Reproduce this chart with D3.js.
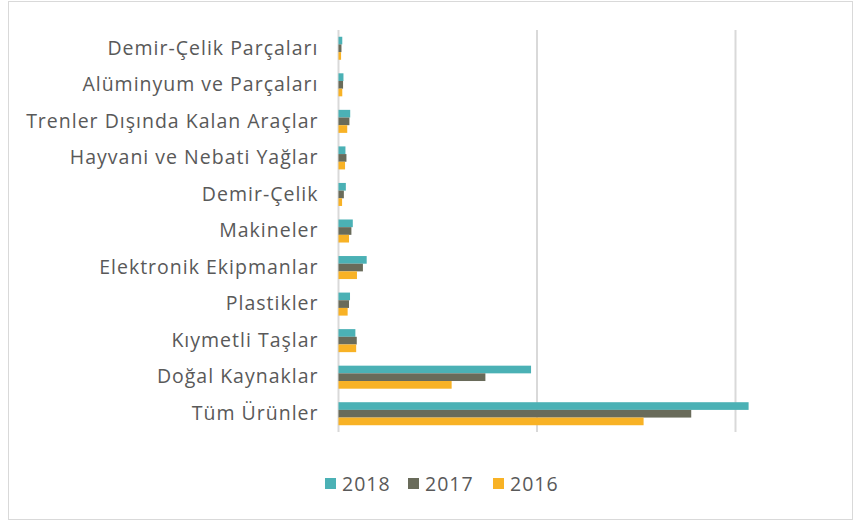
<!DOCTYPE html>
<html><head><meta charset="utf-8">
<script src="https://cdn.jsdelivr.net/npm/d3@7"></script>
<style>body{margin:0;background:#fff}svg{display:block}</style>
</head><body>
<svg id="c" width="854" height="521"></svg>
<script>
const categories = ["Demir-Çelik Parçaları","Alüminyum ve Parçaları","Trenler Dışında Kalan Araçlar","Hayvani ve Nebati Yağlar","Demir-Çelik","Makineler","Elektronik Ekipmanlar","Plastikler","Kıymetli Taşlar","Doğal Kaynaklar","Tüm Ürünler"];
const seriesNames = ["2018","2017","2016"];
const v2018 = [1.9,2.5,5.9,3.5,3.7,7.2,14.2,5.8,8.5,97,206.6];
const v2017 = [1.5,2.3,5.5,4.0,2.7,6.5,12.3,5.3,9.2,74,177.7];
const v2016 = [1.3,1.9,4.4,3.3,1.8,5.3,9.3,4.6,8.9,57,153.7];
const xTicks = [0,100,200];
const colors = ["#4bb1b5","#696b5a","#f8b225"];

const svg = d3.select("#c");
svg.append("rect").attr("x",8.5).attr("y",1.5).attr("width",844).attr("height",518)
  .attr("fill","#fff").attr("stroke","#d9d9d9").attr("stroke-width",1);

const x = d3.scaleLinear().domain([0,200]).range([338.5,735.5]);
const y = d3.scaleBand().domain(categories).range([30,432]).paddingInner(0.37).paddingOuter(0.185);
const ys = d3.scaleBand().domain(seriesNames).range([0,y.bandwidth()]);

svg.append("g").selectAll("line").data(xTicks).join("line")
  .attr("x1",d=>x(d)).attr("x2",d=>x(d)).attr("y1",30).attr("y2",432)
  .attr("stroke","#d9d9d9").attr("stroke-width",2);

const data = [v2018,v2017,v2016];
seriesNames.forEach((s,i)=>{
  svg.append("g").selectAll("rect").data(categories).join("rect")
    .attr("x",x(0)).attr("y",(c)=>y(c)+ys(s))
    .attr("width",(c,j)=>x(data[i][j])-x(0)).attr("height",ys.bandwidth())
    .attr("fill",colors[i]);
});

const FONT = "'Open Sans', sans-serif";
const yAxis = d3.axisLeft(y).tickSize(0).tickPadding(20);
const ga = svg.append("g").attr("transform",`translate(${x(0)},0)`).call(yAxis);
ga.select(".domain").remove();
ga.selectAll("text").attr("font-family",FONT).attr("font-size",19.5).attr("letter-spacing","1px").attr("fill","#595959");

const lg = svg.append("g").attr("font-family",FONT).attr("font-size",19.5).attr("letter-spacing","1px").attr("fill","#595959");
const lx = [325,408,493];
seriesNames.forEach((s,i)=>{
  lg.append("rect").attr("x",lx[i]).attr("y",478).attr("width",11).attr("height",11).attr("fill",colors[i]);
  lg.append("text").attr("x",lx[i]+17).attr("y",484).attr("dy","0.35em").text(s);
});
</script>
</body></html>
